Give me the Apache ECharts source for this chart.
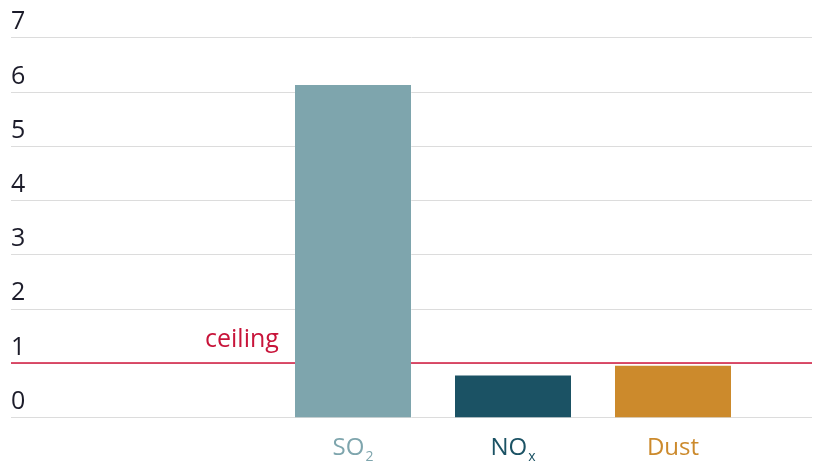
<!DOCTYPE html>
<html>
<head>
<meta charset="utf-8">
<script src="https://cdn.jsdelivr.net/npm/echarts@6/dist/echarts.min.js"></script>
<style>html,body{margin:0;padding:0;background:#fff}#c{width:814px;height:465px}</style>
</head>
<body>
<div id="c"></div>
<script>
var categories = ['SO2', 'NOx', 'Dust'];
var values = [6.13, 0.77, 0.95];
var colors = ['#7ea5ad', '#1b5264', '#cc8a2c'];
var yTicks = [0, 1, 2, 3, 4, 5, 6, 7];
var ceilingValue = 1;
var ceilingLabel = 'ceiling';

var FONT = 'Open Sans';
var rich = {};
colors.forEach(function (c, i) {
  rich['m' + i] = { color: c, fontSize: 24, fontFamily: FONT, lineHeight: 30 };
  rich['s' + i] = { color: c, fontSize: 14, fontFamily: FONT, lineHeight: 30, padding: [18, 0, 0, 1] };
});

var chart = echarts.init(document.getElementById('c'), null, { renderer: 'canvas' });
chart.setOption({
  animation: false,
  grid: [
    { left: 11, right: 2, top: 37.7, bottom: 47.7 },
    { left: 273, right: 61, top: 37.7, bottom: 47.7 }
  ],
  xAxis: [
    { gridIndex: 0, type: 'value', min: 0, max: 1, show: false },
    {
      gridIndex: 1, type: 'category', data: categories,
      axisLine: { show: false }, axisTick: { show: false },
      axisLabel: {
        margin: 16,
        formatter: function (v, i) {
          var m = /^(SO|NO)(.)$/.exec(v);
          if (m) return '{m' + i + '|' + m[1] + '}{s' + i + '|' + m[2] + '}';
          return '{m' + i + '|' + v + '}';
        },
        rich: rich
      }
    }
  ],
  yAxis: [
    {
      gridIndex: 0, type: 'value', min: yTicks[0], max: yTicks[yTicks.length - 1], interval: 1,
      axisLine: { show: false }, axisTick: { show: false },
      splitLine: { lineStyle: { color: '#dcdcdc', width: 1 } },
      axisLabel: {
        inside: true, margin: 0, align: 'left', verticalAlign: 'bottom',
        fontSize: 25, fontFamily: FONT, color: '#1c1c2a', lineHeight: 25, padding: [0, 0, 3, 0]
      }
    },
    { gridIndex: 1, type: 'value', min: yTicks[0], max: yTicks[yTicks.length - 1], interval: 1, show: false }
  ],
  series: [
    {
      type: 'line', xAxisIndex: 0, yAxisIndex: 0, data: [], z: 1,
      markLine: {
        silent: true, symbol: 'none', animation: false,
        lineStyle: { color: '#d2163c', type: 'solid', width: 1.5 },
        label: {
          show: true, position: 'insideStartTop', formatter: ceilingLabel,
          color: '#c8143a', fontSize: 25, fontFamily: FONT, distance: [194, 11]
        },
        data: [{ yAxis: ceilingValue }]
      }
    },
    {
      type: 'bar', xAxisIndex: 1, yAxisIndex: 1, z: 5,
      barWidth: 116,
      data: values.map(function (v, i) { return { value: v, itemStyle: { color: colors[i] } }; })
    }
  ]
});
</script>
</body>
</html>
